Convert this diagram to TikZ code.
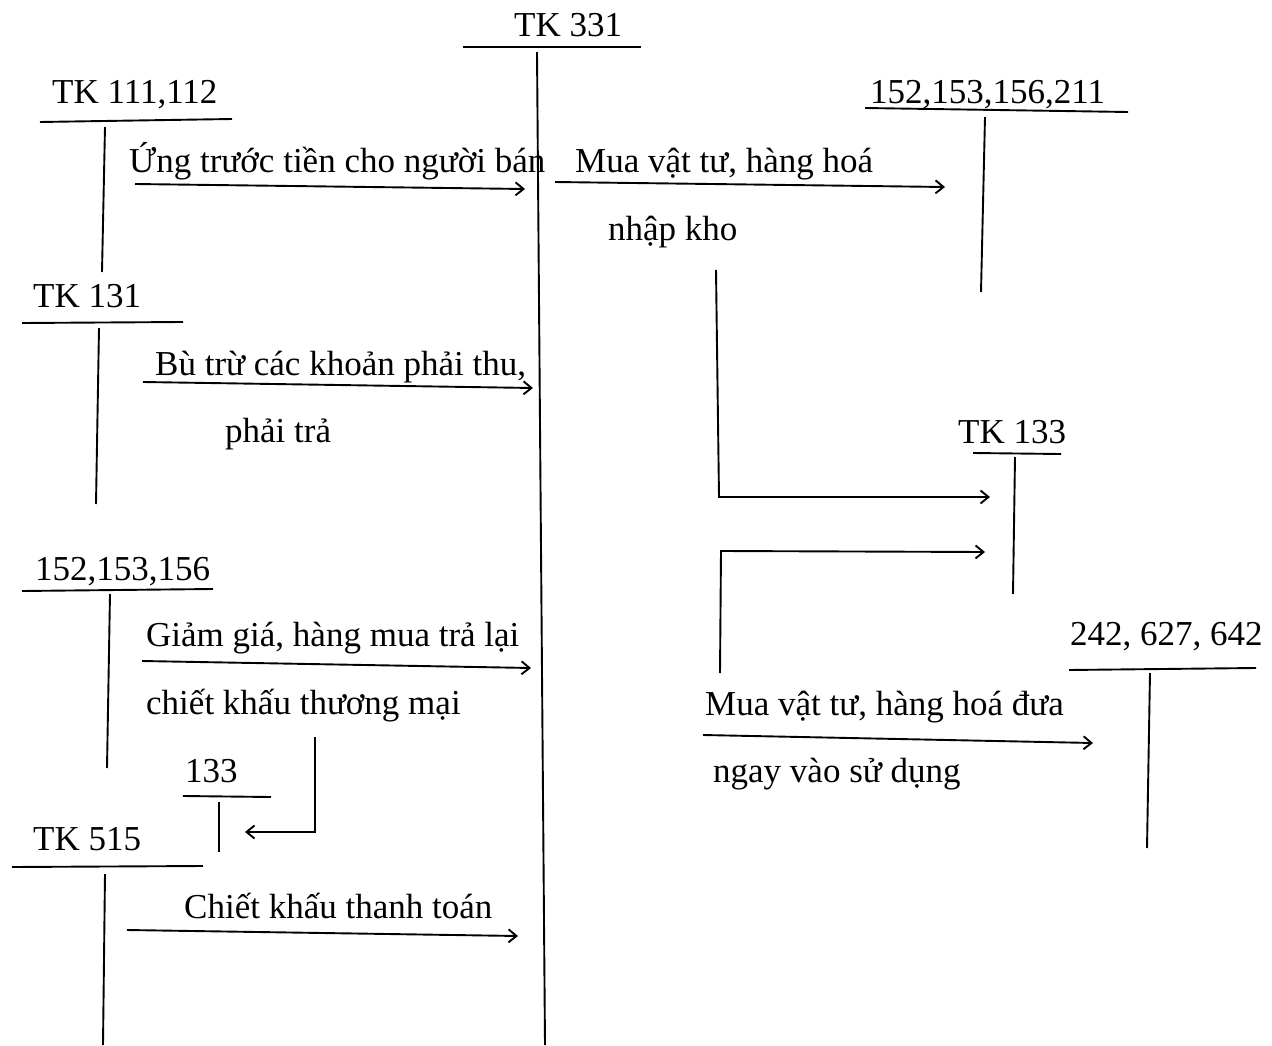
\documentclass[tikz,border=0pt]{standalone}
\usepackage{fontspec}
\setmainfont{Liberation Serif}
\usetikzlibrary{arrows.meta}
\tikzset{
  lbl/.style={anchor=base west, inner sep=0pt, font=\fontsize{35}{42}\selectfont},
  acct/.style={line width=1.9pt},
  flow/.style={line width=1.9pt, -{Straight Barb[length=8pt,width=13pt,line width=1.9pt]}}
}
\begin{document}
\begin{tikzpicture}[x=1pt,y=-1pt]
\useasboundingbox (0,0) rectangle (1272,1046);
% texts
\node[lbl] (t331) at (514,37) {TK 331};
\node[lbl] (t111) at (52,104) {TK 111,112};
\node[lbl] (lUng) at (129,172) {Ứng trước tiền cho người bán};
\node[lbl] (lMua1) at (575,172) {Mua vật tư, hàng hoá};
\node[lbl] (lNhap) at (608,240) {nhập kho};
\node[lbl] (t152a) at (870,104) {152,153,156,211};
\node[lbl] (t131) at (33,307) {TK 131};
\node[lbl] (lBu) at (155,375) {Bù trừ các khoản phải thu,};
\node[lbl] (lPhai) at (225,442) {phải trả};
\node[lbl] (t133) at (958,443) {TK 133};
\node[lbl] (t152b) at (35,580) {152,153,156};
\node[lbl] (t242) at (1070,645) {242, 627, 642};
\node[lbl] (lGiam) at (146,646) {Giảm giá, hàng mua trả lại};
\node[lbl] (lChiet) at (146,714) {chiết khấu thương mại};
\node[lbl] (lMua2) at (705,715) {Mua vật tư, hàng hoá đưa};
\node[lbl] (t133b) at (185,782) {133};
\node[lbl] (lNgay) at (713,782) {ngay vào sử dụng};
\node[lbl] (t515) at (33,850) {TK 515};
\node[lbl] (lCk) at (184,918) {Chiết khấu thanh toán};

% T-accounts
\draw[acct] (463,47) -- (641,47);
\draw[acct] (537,52) -- (545,1045);
\draw[acct] (40,122) -- (232,119);
\draw[acct] (105,127) -- (102,272);
\draw[acct] (865,108) -- (1128,112);
\draw[acct] (985,117) -- (981,292);
\draw[acct] (22,323) -- (183,322);
\draw[acct] (99,328) -- (96,504);
\draw[acct] (973,453) -- (1061,454);
\draw[acct] (1015,457) -- (1013,594);
\draw[acct] (22,591) -- (213,589);
\draw[acct] (110,594) -- (107,768);
\draw[acct] (1069,670) -- (1256,668);
\draw[acct] (1150,673) -- (1147,848);
\draw[acct] (183,796) -- (271,797);
\draw[acct] (219,802) -- (219,852);
\draw[acct] (12,867) -- (203,866);
\draw[acct] (105,874) -- (103,1045);

% flow endpoints
\coordinate (a1s) at (135,184); \coordinate (a1e) at (525,189);
\coordinate (a2s) at (555,182); \coordinate (a2e) at (945,187);
\coordinate (a3s) at (716,270); \coordinate (a3m) at (719,497); \coordinate (a3e) at (990,497);
\coordinate (a4s) at (720,673); \coordinate (a4m) at (721,551); \coordinate (a4e) at (985,552);
\coordinate (a5s) at (703,735); \coordinate (a5e) at (1093,743);
\coordinate (a6s) at (143,382); \coordinate (a6e) at (533,388);
\coordinate (a7s) at (142,661); \coordinate (a7e) at (531,668);
\coordinate (a8s) at (315,737); \coordinate (a8m) at (315,832); \coordinate (a8e) at (245,832);
\coordinate (a9s) at (127,930); \coordinate (a9e) at (518,936);

\draw[flow] (a1s) -- (a1e);
\draw[flow] (a2s) -- (a2e);
\draw[flow] (a3s) -- (a3m) -- (a3e);
\draw[flow] (a4s) -- (a4m) -- (a4e);
\draw[flow] (a5s) -- (a5e);
\draw[flow] (a6s) -- (a6e);
\draw[flow] (a7s) -- (a7e);
\draw[flow] (a8s) -- (a8m) -- (a8e);
\draw[flow] (a9s) -- (a9e);
\end{tikzpicture}
\end{document}
